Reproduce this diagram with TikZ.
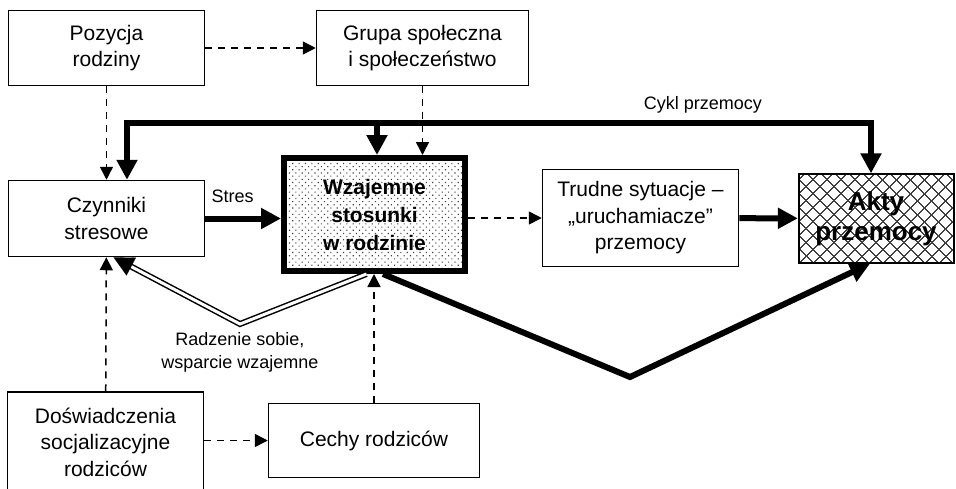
\documentclass[tikz,border=0pt]{standalone}
\usepackage{fontspec}
\setmainfont{Liberation Sans}
\usetikzlibrary{calc,arrows.meta,patterns.meta}

\begin{document}
\begin{tikzpicture}[
    x=1pt, y=-1pt,
    align=center,
    font=\fontsize{21}{26.5}\selectfont,
    block/.style={rectangle, draw=black, line width=1.5pt, inner sep=2pt},
    core/.style={rectangle, draw=black, line width=6pt, inner sep=2pt,
      pattern={Dots[distance=4.5pt, angle=45, radius=0.8pt]}, pattern color=black!75,
      font=\fontsize{21}{28}\selectfont\bfseries},
    acts/.style={rectangle, draw=black, line width=2pt, inner sep=2pt,
      pattern={Hatch[distance=10.5pt, angle=45, line width=1.3pt]}, pattern color=black!75,
      font=\fontsize{26}{30}\selectfont\bfseries},
    infl/.style={line width=1.5pt, dash pattern=on 7pt off 6pt,
      -{Triangle[length=13pt, width=13pt]}},
    heavy/.style={line width=6pt, -{Triangle[length=20pt, width=20pt]}},
    dbl/.style={draw=black, double=white, line width=1.5pt, double distance=3pt,
      shorten >=18pt},
    dbltip/.style={line width=0.1pt, -{Triangle[length=20pt, width=20pt]}},
    lbl/.style={font=\fontsize{18}{23}\selectfont, inner sep=2pt}
  ]

  \useasboundingbox (0,0) rectangle (956,488);

  % the boxes

  \node (pos)   [block, minimum width=196pt, minimum height=75pt] at (106.5,48)  {Pozycja\\rodziny};
  \node (grupa) [block, minimum width=212pt, minimum height=75pt] at (422.5,48)  {Grupa społeczna\\i społeczeństwo};
  \node (czyn)  [block, minimum width=196pt, minimum height=76pt] at (106.5,218.5) {Czynniki\\stresowe};
  \node (wzaj)  [core, minimum width=181pt, minimum height=113pt] at (374.5,214.5) {Wzajemne\\stosunki\\w rodzinie};
  \node (trud)  [block, minimum width=196pt, minimum height=97pt] at (640.5,218)  {Trudne sytuacje --\\„uruchamiacze”\\przemocy};
  \node (akty)  [acts, minimum width=155pt, minimum height=89pt]  at (876,218.5)  {Akty\\przemocy};
  \node (dosw)  [block, minimum width=196pt, minimum height=100pt] at (105.5,442) {Doświadczenia\\socjalizacyjne\\rodziców};
  \node (cechy) [block, minimum width=211pt, minimum height=74pt] at (374,440.5)  {Cechy rodziców};

  % dashed influences

  \draw[infl] (pos) -- (grupa);
  \draw[infl] (pos) -- (czyn);
  \draw[infl] (grupa.south) -- (grupa.south |- wzaj.north);
  \draw[infl] (wzaj.east |- trud.west) -- (trud.west);
  \draw[infl] (dosw) -- (czyn);
  \draw[infl] (dosw.east |- cechy.west) -- (cechy.west);
  \draw[infl] (cechy.north) -- (cechy.north |- wzaj.south);

  % stress and triggers

  \draw[heavy] (czyn) -- node[lbl, above=10.5pt, pos=0.36] {Stres} (wzaj.west |- czyn.east);
  \draw[heavy] (trud) -- (akty);

  % cycle of violence along the top
  \coordinate (cl) at (127,123);
  \coordinate (cm) at (377,123);
  \coordinate (cr) at (871,123);
  \draw[heavy, {Triangle[length=20pt, width=20pt]}-{Triangle[length=20pt, width=20pt]}]
    (cl |- czyn.north) -- (cl) -- node[lbl, above=5pt, pos=0.774] {Cykl przemocy} (cr) -- (cr |- akty.north);
  \draw[heavy] (cm) -- (cm |- wzaj.north);

  % coping back to stress factors
  \coordinate (dip)   at (240,324);
  \coordinate (cztip) at ($(czyn.south)+(7,0)$);
  \draw[dbl] ($(wzaj.south)+(-8,0)$) -- (dip) node[lbl, below=6pt] {Radzenie sobie,\\wsparcie wzajemne}
    -- (cztip);
  \draw[dbltip] ($(cztip)!20pt!(dip)$) -- (cztip);

  % relations straight to violence
  \coordinate (vee) at (630,377);
  \draw[heavy] ($(wzaj.south)+(8.5,0)$) -- (vee) -- ($(akty.south)+(-6,0)$);

\end{tikzpicture}
\end{document}
